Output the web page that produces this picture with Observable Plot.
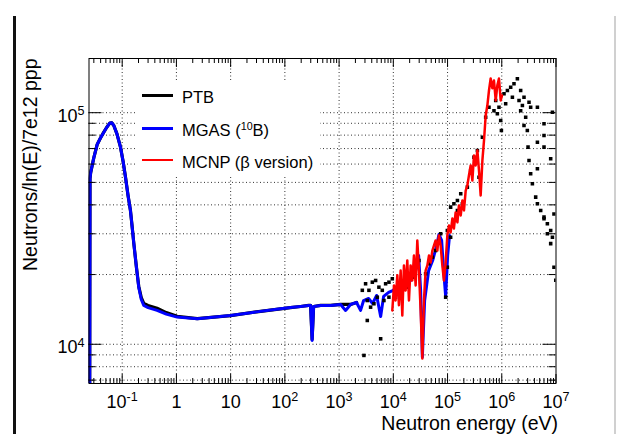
<!DOCTYPE html>
<html><head><meta charset="utf-8">
<script src="https://cdn.jsdelivr.net/npm/d3@7"></script>
<script src="https://cdn.jsdelivr.net/npm/@observablehq/plot@0.6"></script>
<style>
body{margin:0;background:#fff;}
#wrap{position:relative;width:620px;height:434px;overflow:hidden;font-family:"Liberation Sans",Arial,Helvetica,sans-serif;background:#fff;}
#wrap svg{position:absolute;left:0;top:0;}
.leftbar{position:absolute;left:13px;top:16px;width:3px;height:418px;background:#111;}
.rightbar{position:absolute;left:614px;top:16px;width:2px;height:418px;background:#d0d0d0;}
#legend{position:absolute;left:135px;top:80px;width:185px;height:96px;background:#fff;}
#legend .ln{position:absolute;left:7px;width:31px;}
#legend .tx{position:absolute;left:47px;font-size:16.5px;line-height:20px;white-space:nowrap;color:#000;}
#legend sup{font-size:0.65em;vertical-align:0.55em;line-height:0;}
</style></head>
<body>
<div id="wrap"><div class="leftbar"></div><div class="rightbar"></div></div>
<script>
// ---------- data ----------
const mgasE = [0.0250,0.0255,0.0262,0.0300,0.0346,0.0400,0.0458,0.0520,0.0590,0.0640,0.0700,0.0800,0.0930,0.1040,0.1150,0.1280,0.1420,0.1530,0.1640,0.1830,0.2020,0.2250,0.2500,0.3000,0.4400,0.6500,1.03,2.42,9.96,30,83,127,195,274,298,318,339,456,697,1066,1318,1630,2100,2490,2830,3500,4150,4920,5840,6620,8190,9710,13650,20850,25800,29300,31900,34300,37800,44800,53100,63000,69400,77800,84700,92300,100400,109000];
const mgasN = [2000,52000,55000,64000,72900,78000,82400,86500,90100,90500,88100,81000,71000,61500,52700,44000,37800,32000,27200,21500,17600,15600,14700,14400,14000,13500,13100,12880,13300,13800,14230,14400,14560,14710,14710,10380,14560,14710,14710,14860,14000,14860,15150,14000,15450,15770,15000,16250,13180,16100,16750,17060,17950,18850,20800,24150,17060,8790,15450,20800,23000,26660,29800,28070,20800,16100,24150,29500];

const ptbLineE = [0.0250,0.0255,0.0262,0.0300,0.0346,0.0400,0.0458,0.0520,0.0590,0.0640,0.0700,0.0800,0.0930,0.1040,0.1150,0.1280,0.1420,0.1530,0.1640,0.1830,0.2020,0.2250,0.2500,0.3000,0.4400,0.6500,1.03,2.42,9.96,30,83,127,195,274,298,318,339,456,697,1066,1630,2100];
const ptbLineN = [2000,52000,55000,64000,72900,78000,82400,86500,90100,90500,88100,81000,71000,61500,52700,44000,37800,32000,27200,21500,17800,15900,15000,14700,14300,13700,13200,12900,13300,13800,14230,14400,14560,14710,14710,10500,14560,14710,14710,14860,14860,15150];

const ptbE = [2680,3080,3550,4100,4720,5420,6260,7210,8300,9580,3310,3810,4390,5070,6710,8300,3310,5840,2870,11000,12680,14650,18100,22400,25800,29700,39400,45400,52500,60300,69400,74600,92300,99100,114000,131000,152000,188000,99100,131000,175000,232000,267000,307000,355000,380000,439000,505000,581000,718000,829000,955000,984000,1.10e6,1.27e6,1.46e6,1.68e6,1.94e6,2.23e6,2.57e6,2.76e6,3.18e6,2.96e6,3.05e6,3.18e6,3.41e6,3.67e6,4.22e6,4.54e6,5.22e6,6.01e6,6.93e6,7.98e6,8.59e6,3.41e6,4.54e6,6.01e6,8.59e6,6.01e6,6.01e6,4.54e6,7.98e6,4.54e6,9.18e6,6.01e6,7.98e6,9.9e6,9.18e6,6.93e6,1.18e6,1.57e6,2.08e6,2.40e6,773000,888000,2.23e6,2.57e6,114000,152000];
const ptbN = [17100,18250,17100,18540,18860,17640,17100,18250,18540,19180,15450,14460,14960,15970,15450,15970,12670,10560,8950,15970,17640,18250,17640,19490,21520,23000,20150,22270,23770,25400,28070,30000,15970,21520,29000,34230,37840,40430,31000,40430,44660,47700,56300,64260,68700,52670,78400,95600,105600,102000,98900,92530,83800,120700,124700,128900,133300,140000,124700,116600,95600,111000,83800,71000,62200,54500,49300,43200,40430,37840,34830,33140,31000,29000,105600,105600,89600,100500,79700,71000,74600,63200,57300,36500,35400,27200,18900,21520,30000,109200,116600,113000,107400,113000,105600,102000,88100,39100,41800];

const mcnpE = [9580,10300,11000,11850,12680,13650,14650,15700,16870,18100,19420,20850,22400,24000,25800,27700,29700,31900,34300,36700,39400,42400,45400,48800,52500,56100,60300,64900,69400,74600,80200,85900,92300,99100,106200,114000,122700,131000,141000,152000,162000,175000,188000,201000,216000,232000,248000,267000,287000,307000,330000,355000,380000,408000,439000,470000,505000,542000,581000,624000,671000,718000,773000,829000,888000,955000,1010000];
const mcnpN = [14000,17950,15450,19870,14740,20830,13320,21900,17060,23000,15450,21900,18850,24150,17950,28070,20800,14000,8690,15450,20800,21900,24150,22540,25400,26660,28070,25400,29500,26660,21900,18850,22540,29500,32600,30400,34900,31600,37100,33600,39700,36000,41800,37840,46100,48500,53600,59200,50900,65300,59200,68700,56300,43900,62200,75800,97200,107400,124700,140500,127400,137800,113000,131200,140500,113000,118700];

const xTicks = [0.1,1,10,100,1e3,1e4,1e5,1e6,1e7];
const xTickLabels = ["10^-1","1","10","10^2","10^3","10^4","10^5","10^6","10^7"];
const yTicks = [1e4,1e5];
const yTickLabels = ["10^4","10^5"];
const yMinorTicks = [7000,8000,9000,20000,30000,40000,50000,60000,70000,80000,90000];
const xMinorMult = [2,3,4,5,6,7,8,9];
const xTitle = "Neutron energy (eV)";
const yTitle = "Neutrons/ln(E)/7e12 ppp";
const legendNames = ["PTB","MGAS (<sup>10</sup>B)","MCNP (\u03b2 version)"];
const legendColors = ["#000000","#0000ff","#ff0000"];

// ---------- layout ----------
const W = 620, H = 434, mL = 88.5, mR = 64.5, mT = 58, mB = 51;
const iW = W - mL - mR, iH = H - mT - mB;
const xDom = [0.02443, 1e7], yDom = [6770, 171400];

const xMinor = [];
for (let d = -2; d <= 6; d++) for (const m of xMinorMult) {
  const v = m * Math.pow(10, d);
  if (v > xDom[0] && v < xDom[1]) xMinor.push(v);
}
const yAllGrid = [...yMinorTicks, ...yTicks];

const mgas = mgasE.map((e,i)=>({e, n: mgasN[i]}));
const ptbLine = ptbLineE.map((e,i)=>({e, n: ptbLineN[i]}));
const ptb = ptbE.map((e,i)=>({e, n: ptbN[i]}));
const mcnp = mcnpE.map((e,i)=>({e, n: mcnpN[i]}));

const grid = {stroke:"#333", strokeDasharray:"1,2.5", strokeWidth:1};

const svg = Plot.plot({
  width: W, height: H,
  marginLeft: mL, marginRight: mR, marginTop: mT, marginBottom: mB,
  x: {type:"log", domain: xDom, axis: null},
  y: {type:"log", domain: yDom, axis: null},
  style: {fontFamily:'"Liberation Sans", Arial, Helvetica, sans-serif', fontSize:"18px", background:"transparent", color:"#000", overflow:"visible"},
  marks: [
    Plot.ruleX(xTicks.slice(0,-1), {x: d=>d, ...grid}),
    Plot.ruleY(yAllGrid, {y: d=>d, ...grid}),
    Plot.line(ptbLine, {x:"e", y:"n", stroke:"#000", strokeWidth:3.2, clip:true}),
    Plot.line(mgas, {x:"e", y:"n", stroke:"#0000ff", strokeWidth:3, clip:true}),
    Plot.dot(ptb, {x:"e", y:"n", symbol:"square", r:2, fill:"#000", stroke:"none", clip:true}),
    Plot.line(mcnp, {x:"e", y:"n", stroke:"#ff0000", strokeWidth:2.5, clip:true}),
    // ticks (inward)
    Plot.tickX(xTicks, {x:d=>d, insetTop: iH-9, stroke:"#000"}),
    Plot.tickX(xMinor, {x:d=>d, insetTop: iH-5, stroke:"#000"}),
    Plot.tickX(xTicks, {x:d=>d, insetBottom: iH-9, stroke:"#000"}),
    Plot.tickX(xMinor, {x:d=>d, insetBottom: iH-5, stroke:"#000"}),
    Plot.tickY(yTicks, {y:d=>d, insetRight: iW-13, stroke:"#000"}),
    Plot.tickY(yMinorTicks, {y:d=>d, insetRight: iW-7, stroke:"#000"}),
    Plot.tickY(yTicks, {y:d=>d, insetLeft: iW-13, stroke:"#000"}),
    Plot.tickY(yMinorTicks, {y:d=>d, insetLeft: iW-7, stroke:"#000"}),
    Plot.frame({stroke:"#000", strokeWidth:1}),
    // tick labels
    Plot.text(xTicks, {x:d=>d, text:(d,i)=>xTickLabels[i], frameAnchor:"bottom", dy:24, lineAnchor:"bottom", textAnchor:"middle", fontSize:18, fill:"#000"}),
    Plot.text(yTicks, {y:d=>d, text:(d,i)=>yTickLabels[i], frameAnchor:"left", dx:-4.5, dy:9, lineAnchor:"bottom", textAnchor:"end", fontSize:18, fill:"#000"}),
    // titles
    Plot.text([xTitle], {text:d=>d, frameAnchor:"bottom-right", dx:2, dy:46, lineAnchor:"bottom", textAnchor:"end", fontSize:19.5, fill:"#000"}),
    Plot.text([yTitle], {text:d=>d, frameAnchor:"top-left", dx:-52.5, dy:0, rotate:-90, lineAnchor:"bottom", textAnchor:"end", fontSize:19.5, fill:"#000"})
  ]
});

// superscripts for 10^k labels
const NS = "http://www.w3.org/2000/svg";
svg.querySelectorAll("text").forEach(t => {
  const m = t.textContent.match(/^10\^(-?\d+)$/);
  if (m) {
    t.textContent = "10";
    const ts = document.createElementNS(NS, "tspan");
    ts.setAttribute("dy", "-0.5em");
    ts.setAttribute("font-size", "0.7em");
    ts.textContent = m[1];
    t.appendChild(ts);
  }
});

const wrap = document.getElementById("wrap");
wrap.insertBefore(svg, wrap.firstChild);

// legend
const leg = document.createElement("div");
leg.id = "legend";
const rowC = [15, 48.3, 80];
legendNames.forEach((name, i) => {
  const ln = document.createElement("div");
  ln.className = "ln";
  const lw = i === 2 ? 2 : 3;
  ln.style.top = (rowC[i] - lw/2) + "px";
  ln.style.height = lw + "px";
  ln.style.background = legendColors[i];
  leg.appendChild(ln);
  const tx = document.createElement("div");
  tx.className = "tx";
  tx.style.top = (rowC[i] + 1.7 - 10) + "px";
  tx.innerHTML = name;
  leg.appendChild(tx);
});
wrap.appendChild(leg);
</script>
</body></html>
